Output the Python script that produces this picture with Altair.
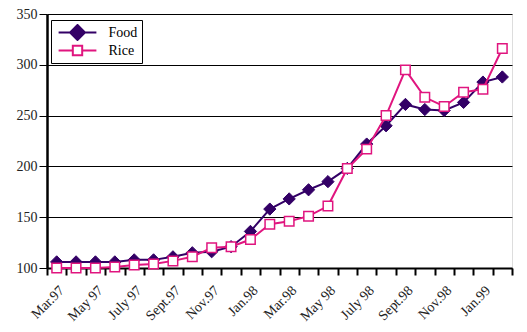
import altair as alt
import pandas as pd
import json

months = ["Mar.97", "Apr.97", "May 97", "June 97", "July 97", "Aug.97",
          "Sept.97", "Oct.97", "Nov.97", "Dec.97", "Jan.98", "Feb.98",
          "Mar.98", "Apr.98", "May 98", "June 98", "July 98", "Aug.98",
          "Sept.98", "Oct.98", "Nov.98", "Dec.98", "Jan.99", "Feb.99"]
food = [106, 106, 106, 106, 108, 108, 111, 115, 116, 121, 136, 158,
        168, 177, 185, 198, 222, 240, 261, 256, 255, 263, 283, 288]
rice = [100, 100, 100, 101, 103, 104, 107, 111, 120, 121, 128, 143,
        146, 151, 161, 198, 217, 250, 295, 268, 259, 273, 276, 316]
series = ["Food", "Rice"]
y_ticks = [100, 150, 200, 250, 300, 350]

PURPLE = "#330066"
PINK = "#E0157F"
SERIF = "Liberation Serif"

rows = []
for i, m in enumerate(months):
    rows.append({"i": i, "month": m, "s": "Food", "v": food[i]})
for i, m in enumerate(months):
    rows.append({"i": i, "month": m, "s": "Rice", "v": rice[i]})
df = pd.DataFrame(rows)

x_values = [k * 0.5 - 0.5 for k in range(2 * len(months) + 1)]
label_expr = ("(datum.value >= 0 && datum.value % 2 === 0) ? "
              + json.dumps(months) + "[datum.value] : ''")

x_enc = alt.X(
    "i:Q",
    scale=alt.Scale(domain=[-0.5, len(months) - 0.5], nice=False, zero=False),
    axis=alt.Axis(
        title=None, values=x_values, labelExpr=label_expr, grid=False,
        labelAngle=315, labelAlign="right", labelBaseline="top",
        labelFont=SERIF, labelFontSize=14, labelColor="#222222",
        labelOverlap=False, labelFlush=False, labelBound=False, labelPadding=8,
        tickSize=7, tickWidth=2, tickColor="black",
        tickOpacity={"condition": {"test": "datum.value % 1 === 0", "value": 0}, "value": 1},
        domainColor="black", domainWidth=2,
    ),
)
y_enc = alt.Y(
    "v:Q",
    scale=alt.Scale(domain=[100, 350], nice=False, zero=False),
    axis=alt.Axis(
        title=None, values=y_ticks, grid=True, gridColor="black", gridWidth=1,
        gridOpacity=1, labelFont=SERIF, labelFontSize=14, labelColor="#222222",
        labelPadding=2, tickSize=8, tickWidth=1, tickColor="black",
        domainColor="black", domainWidth=2.5,
    ),
)

base = alt.Chart(df)

food_line = base.transform_filter("datum.s == 'Food'").mark_line(
    stroke=PURPLE, strokeWidth=2).encode(x=x_enc, y=y_enc)
food_pts = base.transform_filter("datum.s == 'Food'").mark_point(
    shape="diamond", filled=True, fill=PURPLE, stroke=PURPLE, strokeWidth=1,
    size=150, opacity=1).encode(x=x_enc, y=y_enc)
rice_line = base.transform_filter("datum.s == 'Rice'").mark_line(
    stroke=PINK, strokeWidth=2).encode(x=x_enc, y=y_enc)
rice_pts = base.transform_filter("datum.s == 'Rice'").mark_point(
    shape="square", filled=True, fill="white", stroke=PINK, strokeWidth=1.5,
    size=90, opacity=1).encode(x=x_enc, y=y_enc)

food_sym = "M-2.7,0H-1.07M1.07,0H2.7M0,-1.07L1.07,0L0,1.07L-1.07,0Z"
rice_sym = "M-2.7,0H-0.67M0.67,0H2.7M-0.67,-0.67H0.67V0.67H-0.67Z"

leg = alt.Legend(
    title=None, orient="none", legendX=4, legendY=6,
    labelFont=SERIF, labelFontSize=14, labelColor="black",
    strokeColor="black", fillColor="white", padding=4, cornerRadius=0,
    symbolSize=196, symbolStrokeWidth=2, symbolOffset=14.5, labelOffset=23,
    rowPadding=1, clipHeight=17,
)
legend_layer = base.transform_filter("false").mark_point(
    size=196, strokeWidth=2, opacity=1).encode(
    shape=alt.Shape("s:N", scale=alt.Scale(domain=series, range=[food_sym, rice_sym]), legend=leg),
    stroke=alt.Stroke("s:N", scale=alt.Scale(domain=series, range=[PURPLE, PINK]), legend=leg),
    fill=alt.Fill("s:N", scale=alt.Scale(domain=series, range=[PURPLE, "white"]), legend=leg),
)

chart = alt.layer(food_line, food_pts, rice_line, rice_pts, legend_layer).properties(
    width=465, height=254,
    padding={"left": 47, "top": 14, "right": 15, "bottom": 64},
    autosize=alt.AutoSizeParams(type="none"),
).configure_view(stroke=None).configure(background="white")

chart.save("out.html", embed_options={"renderer": "svg", "actions": False})
